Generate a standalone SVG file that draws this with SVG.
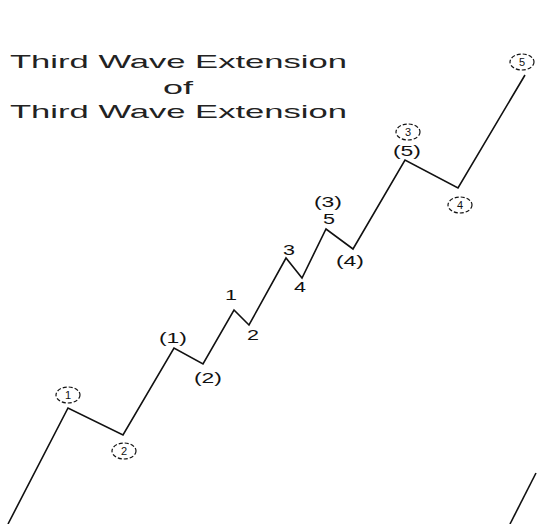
<svg xmlns="http://www.w3.org/2000/svg" width="537" height="524" viewBox="0 0 537 524">
<style>
.t{font-family:"Liberation Sans",Arial,sans-serif;font-size:19px;fill:#222}
.l{font-family:"Liberation Sans",Arial,sans-serif;font-size:14px;fill:#111;text-anchor:middle}
.c{font-family:"Liberation Sans",Arial,sans-serif;font-size:11px;fill:#111;text-anchor:middle}
.ring{fill:none;stroke:#111;stroke-width:1.2;stroke-dasharray:4 2}
.w{fill:none;stroke:#111;stroke-width:1.6;stroke-linejoin:miter}
</style>
<rect width="537" height="524" fill="#fff"/>
<g id="title">
<text class="t" x="10" y="68" textLength="337" lengthAdjust="spacingAndGlyphs">Third Wave Extension</text>
<text class="t" x="163" y="94" textLength="30" lengthAdjust="spacingAndGlyphs">of</text>
<text class="t" x="10" y="118" textLength="337" lengthAdjust="spacingAndGlyphs">Third Wave Extension</text>
</g>
<g id="connectors">
<polyline class="w" points="8,524 68,408 123,435 174,348 203,364 234,310 249,325 286,258 302,278 326,229 353,249 405,160 458,188 525,75"/>
<line class="w" x1="510" y1="524" x2="536" y2="473"/>
</g>
<g id="c1"><ellipse class="ring" cx="68" cy="395" rx="12" ry="8"/><text class="c" x="68" y="399">1</text></g>
<g id="c2"><ellipse class="ring" cx="124" cy="451" rx="12" ry="8"/><text class="c" x="124" y="455">2</text></g>
<g id="p1"><text class="l" x="173" y="343" textLength="28" lengthAdjust="spacingAndGlyphs">(1)</text></g>
<g id="p2"><text class="l" x="208" y="383" textLength="28" lengthAdjust="spacingAndGlyphs">(2)</text></g>
<g id="n1"><text class="l" x="231" y="300" textLength="12" lengthAdjust="spacingAndGlyphs">1</text></g>
<g id="n2"><text class="l" x="253" y="340" textLength="12" lengthAdjust="spacingAndGlyphs">2</text></g>
<g id="n3"><text class="l" x="289" y="255" textLength="12" lengthAdjust="spacingAndGlyphs">3</text></g>
<g id="n4"><text class="l" x="300" y="292" textLength="12" lengthAdjust="spacingAndGlyphs">4</text></g>
<g id="n5"><text class="l" x="329" y="224" textLength="12" lengthAdjust="spacingAndGlyphs">5</text></g>
<g id="p3"><text class="l" x="328" y="207" textLength="28" lengthAdjust="spacingAndGlyphs">(3)</text></g>
<g id="p4"><text class="l" x="350" y="266" textLength="28" lengthAdjust="spacingAndGlyphs">(4)</text></g>
<g id="p5"><text class="l" x="407" y="156" textLength="28" lengthAdjust="spacingAndGlyphs">(5)</text></g>
<g id="c3"><ellipse class="ring" cx="408" cy="132" rx="12" ry="8"/><text class="c" x="408" y="136">3</text></g>
<g id="c4"><ellipse class="ring" cx="460" cy="205" rx="12" ry="8"/><text class="c" x="460" y="209">4</text></g>
<g id="c5"><ellipse class="ring" cx="522" cy="62" rx="12" ry="8"/><text class="c" x="522" y="66">5</text></g>
</svg>
